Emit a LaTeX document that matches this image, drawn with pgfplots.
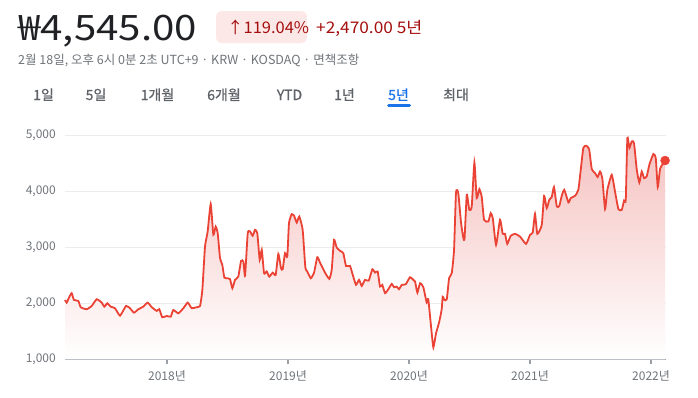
\documentclass[border=0pt]{standalone}
\usepackage{pgfplots}
\pgfplotsset{compat=1.18}
\usepackage{pgfplotstable}
\usepackage{fontspec}
\setmainfont{Noto Sans CJK KR}
\newfontfamily\tabfont{Noto Sans CJK KR}[FakeBold=0.8]
\definecolor{gred}{RGB}{234,67,53}
\definecolor{fillc}{RGB}{244,192,190}
\definecolor{txtdark}{RGB}{32,33,36}
\definecolor{gtxt}{RGB}{112,117,122}
\definecolor{tabtxt}{RGB}{95,99,104}
\definecolor{gblue}{RGB}{26,115,232}
\definecolor{dred}{RGB}{165,14,14}
\definecolor{pinkbox}{RGB}{252,232,230}
\definecolor{gridc}{RGB}{236,236,236}
\definecolor{axisc}{RGB}{154,160,166}

\pgfplotstableread{
x y
2017.157 2059
2017.171 2011
2017.190 2100
2017.212 2179
2017.231 2059
2017.267 2041
2017.287 1929
2017.336 1893
2017.378 1952
2017.419 2071
2017.460 2011
2017.482 1939
2017.507 2000
2017.535 1939
2017.570 1911
2017.612 1779
2017.661 1952
2017.694 1911
2017.727 1832
2017.763 1893
2017.804 1939
2017.840 2011
2017.874 1929
2017.915 1863
2017.936 1893
2017.961 1750
2017.997 1773
2018.031 1761
2018.052 1880
2018.093 1821
2018.135 1911
2018.171 2011
2018.204 1911
2018.245 1929
2018.273 1952
2018.292 2238
2018.314 3011
2018.336 3279
2018.361 3768
2018.383 3220
2018.402 3368
2018.419 3250
2018.438 2804
2018.457 2684
2018.474 2457
2018.502 2446
2018.521 2429
2018.540 2268
2018.562 2416
2018.589 2475
2018.612 2755
2018.631 2743
2018.645 2488
2018.667 3250
2018.686 3279
2018.708 3202
2018.727 3309
2018.746 3250
2018.766 2773
2018.783 2952
2018.802 2536
2018.824 2566
2018.845 2475
2018.874 2546
2018.898 2505
2018.920 2880
2018.942 2625
2018.956 2607
2018.975 2893
2018.994 2832
2019.008 3429
2019.031 3589
2019.050 3559
2019.072 3439
2019.093 3546
2019.121 3309
2019.143 2643
2019.159 2566
2019.188 2446
2019.215 2546
2019.242 2821
2019.264 2725
2019.306 2546
2019.341 2434
2019.361 2595
2019.380 3130
2019.402 2993
2019.430 2934
2019.457 2893
2019.479 2666
2019.512 2666
2019.535 2505
2019.562 2327
2019.587 2416
2019.609 2309
2019.636 2416
2019.667 2404
2019.697 2607
2019.719 2546
2019.741 2566
2019.760 2297
2019.779 2327
2019.802 2179
2019.829 2250
2019.857 2345
2019.876 2286
2019.898 2297
2019.917 2250
2019.940 2327
2019.973 2339
2020.008 2464
2020.036 2416
2020.050 2386
2020.069 2189
2020.091 2357
2020.118 2286
2020.146 2011
2020.159 2071
2020.182 1582
2020.201 1214
2020.223 1464
2020.248 1654
2020.270 1893
2020.278 2118
2020.292 2059
2020.312 2071
2020.331 2446
2020.353 2536
2020.372 2952
2020.388 3975
2020.407 3964
2020.430 3429
2020.449 3161
2020.459 3161
2020.477 3934
2020.498 3666
2020.518 3726
2020.540 4511
2020.559 3875
2020.581 4036
2020.601 3893
2020.620 3488
2020.655 3457
2020.675 3607
2020.692 3518
2020.719 3041
2020.752 3488
2020.774 3238
2020.793 3238
2020.812 3059
2020.840 3202
2020.876 3238
2020.917 3189
2020.967 3059
2021.000 3220
2021.022 3261
2021.041 3595
2021.060 3238
2021.097 3398
2021.116 3916
2021.138 3696
2021.159 3845
2021.179 3893
2021.198 4071
2021.221 3726
2021.242 3738
2021.262 3916
2021.283 4023
2021.317 3797
2021.336 3875
2021.372 3916
2021.399 4023
2021.419 4380
2021.440 4768
2021.463 4809
2021.488 4750
2021.510 4393
2021.537 4321
2021.559 4250
2021.578 4350
2021.597 4232
2021.620 3679
2021.639 4023
2021.675 4291
2021.702 3993
2021.730 3679
2021.758 3666
2021.777 3832
2021.791 3845
2021.804 4946
2021.821 4768
2021.840 4886
2021.859 4857
2021.882 4380
2021.903 4154
2021.923 4350
2021.942 4232
2021.964 4261
2021.986 4470
2022.019 4661
2022.039 4589
2022.055 4071
2022.074 4393
2022.093 4470
2022.116 4545
}\prices

\begin{document}
\begin{tikzpicture}[x=1pt,y=1pt]
\fill[white] (0,0) rectangle (698,-397);
% header
\node[anchor=base west, inner sep=0, text=txtdark, font=\fontsize{35}{40}\selectfont] at (18,-40) {\scalebox{1.15}[1]{₩4,545.00}};
\fill[pinkbox, rounded corners=6pt] (216,-11) rectangle (307,-43);
\node[anchor=base west, inner sep=0, text=dred, font=\fontsize{16}{18}\selectfont] at (227,-33) {\scalebox{1.03}[1]{↑119.04\%}};
\node[anchor=base west, inner sep=0, text=dred, font=\fontsize{16}{18}\selectfont] at (316,-33) {\scalebox{1.08}[1]{+2,470.00 5년}};
\node[anchor=base west, inner sep=0, text=gtxt, font=\fontsize{12.5}{15}\selectfont] at (18,-64) {2월 18일, 오후 6시 0분 2초 UTC+9 · KRW · KOSDAQ · 면책조항};
% tabs
\foreach \cx/\lab in {43.5/1일, 96/5일, 157.5/1개월, 224/6개월, 289.5/YTD, 344.5/1년, 456/최대}
  \node[anchor=base, inner sep=0, text=tabtxt, font=\tabfont\fontsize{14}{16}\selectfont] at (\cx,-100) {\lab};
\node[anchor=base, inner sep=0, text=gblue, font=\tabfont\fontsize{14}{16}\selectfont] at (398.5,-100) {5년};
\draw[gblue, line width=3pt, line cap=round] (388.5,-105.5) -- (409.5,-105.5);
\begin{axis}[
  at={(65pt,-359.3pt)}, anchor=south west,
  scale only axis, width=600.7pt, height=224.3pt,
  xmin=2017.157, xmax=2022.121, ymin=1000, ymax=5000,
  clip=false,
  axis lines*=left,
  y axis line style={draw=none},
  x axis line style={draw=axisc, line width=1pt},
  ytick={1000,2000,3000,4000,5000},
  xtick={2018,2019,2020,2021,2022},
  xticklabels={2018년,2019년,2020년,2021년,2022년},
  scaled y ticks=false,
  /pgf/number format/.cd, 1000 sep={,}, assume math mode=true, /pgfplots/.cd,
  ymajorgrids, grid style={draw=gridc, line width=1pt},
  ytick style={draw=none},
  xtick style={draw=axisc, line width=1.5pt},
  tick align=outside, major tick length=5pt,
  tick label style={text=gtxt, font=\fontsize{12}{14}\selectfont},
  yticklabel style={inner sep=0pt, xshift=-4pt},
  xticklabel style={inner sep=0pt, yshift=-6pt},
]
\addplot[draw=none, shade, top color=fillc, bottom color=white, smooth, tension=0.3] table {\prices} \closedcycle;
\addplot[gred, line width=1.8pt, smooth, tension=0.3] table {\prices};
\addplot[only marks, mark=*, mark size=4.5pt, gred] coordinates {(2022.116,4545)};
\end{axis}
\end{tikzpicture}
\end{document}
